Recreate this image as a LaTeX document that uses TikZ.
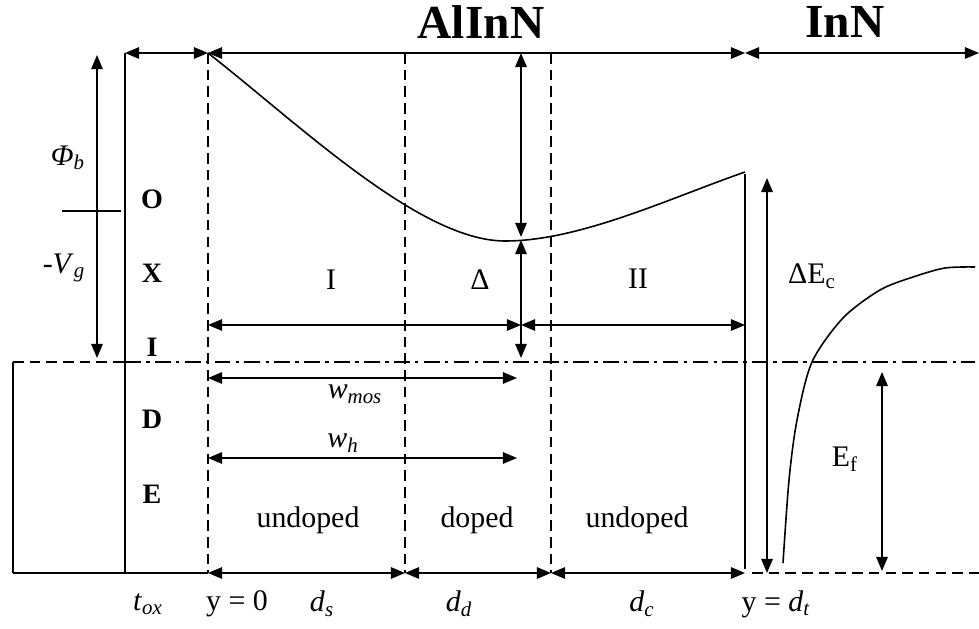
\documentclass[tikz,border=0pt]{standalone}
\usepackage{fontspec}
\setmainfont{Liberation Serif}
\usetikzlibrary{arrows.meta}

\begin{document}
\begin{tikzpicture}[x=0.02cm, y=-0.02cm, line width=0.9pt,
    >={Triangle[length=8pt,width=6.5pt]},
    lbl/.style={font=\fontsize{17}{20}\selectfont},
    oxl/.style={font=\fontsize{16}{18}\selectfont\bfseries},
    ttl/.style={font=\fontsize{27}{30}\selectfont\bfseries},
    bnd/.style={dash pattern=on 6pt off 3.5pt},
    fermi/.style={dash pattern=on 9pt off 3pt on 2pt off 3pt}]
  \useasboundingbox (0,0) rectangle (979,628);
  % corner points
  \coordinate (oxT) at (125,53);
  \coordinate (oxB) at (125,573);
  \coordinate (oxF) at (125,362);
  \coordinate (mT)  at (13,362);
  \coordinate (mB)  at (13,573);
  \coordinate (y0T) at (208,53);
  \coordinate (y0B) at (208,573);
  \coordinate (dsT) at (405,53);
  \coordinate (dsB) at (405,573);
  \coordinate (ddT) at (551,53);
  \coordinate (ddB) at (551,573);
  \coordinate (dtT) at (745,53);
  \coordinate (dtB) at (745,573);
  \coordinate (dtC) at (745,174);
  \coordinate (dtE) at (745,569);
  \coordinate (enT) at (979,53);
  \coordinate (fR)  at (975,362);
  \coordinate (bL)  at (752,573);
  \coordinate (bR)  at (979,573);
  \coordinate (cbM) at (505,241);
  \coordinate (cbE) at (745,172);
  % titles
  \node[ttl] (AlInN) at (481,22) {AlInN};
  \node[ttl] (InN)   at (845,22) {InN};
  % metal and oxide
  \draw (mB) -- (mT);
  \draw[bnd] (mT) -- (oxF);
  \draw (mB) -- (oxB) -- (y0B);
  \draw (oxT) -- (oxB);
  \node[oxl] (O) at (152,199) {O};
  \node[oxl] (X) at (152,273) {X};
  \node[oxl] (I) at (152,347) {I};
  \node[oxl] (D) at (152,419) {D};
  \node[oxl] (E) at (152,494) {E};
  % phi_b and V_g
  \coordinate (phT) at (97,55);
  \coordinate (phB) at (97,358);
  \coordinate (tkL) at (62,211);
  \coordinate (tkR) at (121,211);
  \draw[<->] (phB) -- (phT);
  \draw (tkL) -- (tkR);
  \node[lbl] (phib) at (68,158) {\textit{Φ}\textsubscript{\textit{b}}};
  \node[lbl] (vg)   at (64,268) {-\textit{V}\textsubscript{\textit{g}}};
  % top axis
  \draw[<->] (oxT) -- (y0T);
  \draw[<->] (y0T) -- (dtT);
  \draw[<->] (dtT) -- (enT);
  % layer borders
  \draw[bnd] (y0T) -- (y0B);
  \draw[bnd] (dsT) -- (dsB);
  \draw[bnd] (ddT) -- (ddB);
  \draw[fermi] (oxF) -- (fR);
  % conduction band
  \draw (y0T) .. controls (300,125) and (420,241) .. (cbM)
              .. controls (580,241) and (670,198) .. (cbE);
  \draw (dtC) -- (dtE);
  \draw plot[smooth] coordinates {(783,563) (789,480) (797,420) (812,362)
    (843,318) (880,290) (913,277) (945,268) (975,267)};
  % delta arrows
  \coordinate (dlT) at (521,53);
  \coordinate (dlM) at (521,237);
  \coordinate (dlN) at (521,240);
  \coordinate (dlF) at (521,358);
  \draw[<->] (dlT) -- (dlM);
  \draw[<->] (dlN) -- (dlF);
  \coordinate (hL) at (208,325);
  \coordinate (hM) at (521,325);
  \coordinate (hR) at (745,325);
  \draw[<->] (hL) -- (hM);
  \draw[<->] (hM) -- (hR);
  % widths
  \coordinate (wmL) at (208,378);
  \coordinate (wmR) at (517,378);
  \coordinate (whL) at (208,458);
  \coordinate (whR) at (517,458);
  \draw[<->] (wmL) -- (wmR);
  \draw[<->] (whL) -- (whR);
  \node[lbl] (wmos) at (355,394) {\textit{w}\textsubscript{\textit{mos}}};
  \node[lbl] (wh)   at (343,443) {\textit{w}\textsubscript{\textit{h}}};
  % InN side
  \coordinate (ecT) at (767,178);
  \coordinate (ecB) at (767,573);
  \coordinate (efT) at (882,372);
  \coordinate (efB) at (882,571);
  \draw[<->] (ecB) -- (ecT);
  \draw[<->] (efB) -- (efT);
  \draw[bnd] (bL) -- (bR);
  \node[lbl] (dEc) at (812,276) {ΔE\textsubscript{c}};
  \node[lbl] (Ef)  at (845,459) {E\textsubscript{f}};
  % regions
  \node[lbl] (rI)   at (331,280) {I};
  \node[lbl] (rD)   at (480,280) {Δ};
  \node[lbl] (rII)  at (638,279) {II};
  \node[lbl] (und1) at (308,520) {undoped};
  \node[lbl] (dop)  at (477,520) {doped};
  \node[lbl] (und2) at (637,520) {undoped};
  % bottom axis
  \draw[<->] (y0B) -- (dsB);
  \draw[<->] (dsB) -- (ddB);
  \draw[<->] (ddB) -- (dtB);
  \node[lbl] (tox) at (148,604) {\textit{t}\textsubscript{\textit{ox}}};
  \node[lbl] (y0)  at (237,604) {y = 0};
  \node[lbl] (ds)  at (322,604) {\textit{d}\textsubscript{\textit{s}}};
  \node[lbl] (dd)  at (459,604) {\textit{d}\textsubscript{\textit{d}}};
  \node[lbl] (dc)  at (642,604) {\textit{d}\textsubscript{\textit{c}}};
  \node[lbl] (ydt) at (776,604) {y = \textit{d}\textsubscript{\textit{t}}};
\end{tikzpicture}
\end{document}
